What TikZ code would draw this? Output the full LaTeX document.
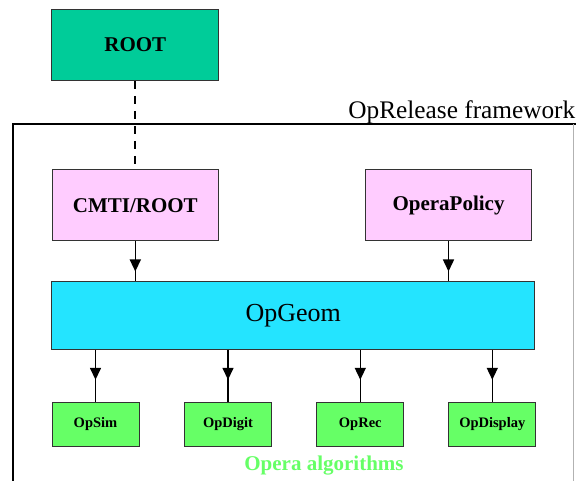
\documentclass[tikz,border=0pt]{standalone}
\usepackage{fontspec}
\setmainfont{Liberation Serif}
\usetikzlibrary{arrows.meta,decorations.markings}
\definecolor{rootgreen}{HTML}{00CC99}
\definecolor{cmtipink}{HTML}{FFCCFF}
\definecolor{geomcyan}{HTML}{24E4FF}
\definecolor{algogreen}{HTML}{66FF66}
\definecolor{boxline}{HTML}{333333}
\tikzset{
  bigbox/.style={draw=boxline, line width=1pt, minimum width=166pt, minimum height=70pt,
    inner sep=0pt, font=\fontsize{21}{25}\selectfont\bfseries},
  algobox/.style={draw=boxline, line width=1pt, fill=algogreen, minimum width=87pt,
    minimum height=44pt, inner sep=0pt, font=\fontsize{14.5}{17}\selectfont\bfseries},
  flowline/.style={line width=1.5pt, postaction={decorate},
    decoration={markings, mark=at position 30pt with {\arrow{Triangle[length=12pt,width=11pt]}}}},
  dashline/.style={line width=1.8pt, dash pattern=on 8pt off 7pt},
}
\begin{document}
\begin{tikzpicture}[x=1pt,y=-1pt]
\useasboundingbox (0,0) rectangle (576,481);
% framework frame
\draw[line width=2pt] (12.5,481) -- (12.5,124) -- (576,124);
\draw[gray!60, line width=0.6pt] (573.5,124) -- (573.5,481);
\node[anchor=base east, inner sep=0pt, font=\fontsize{25.3}{29}\selectfont] (fwlabel) at (575.5,118.5) {OpRelease framework};
% boxes
\node[bigbox, fill=rootgreen, minimum width=167pt, minimum height=71pt] (root) at (135.3,45) {ROOT};
\node[bigbox, fill=cmtipink, minimum height=71pt] (cmti) at (135.3,205.5) {CMTI/ROOT};
\node[bigbox, fill=cmtipink, minimum height=71pt] (policy) at (448.5,205.5) {OperaPolicy};
\node[draw=boxline, line width=1pt, fill=geomcyan, minimum width=483pt, minimum height=68pt,
  inner sep=0pt, font=\fontsize{26}{30}\selectfont] (geom) at (293.3,315.3) {OpGeom};
\node[algobox] (sim) at (95.5,424.2) {OpSim};
\node[algobox] (digit) at (228,424.2) {OpDigit};
\node[algobox] (rec) at (360.3,424.2) {OpRec};
\node[algobox] (disp) at (492.3,424.2) {OpDisplay};
\node[anchor=base, inner sep=0pt, text=algogreen, font=\fontsize{21}{25}\selectfont\bfseries] (algolabel) at (324,470) {Opera algorithms};
% connectors
\draw[dashline] (root.south) -- (cmti.north);
\draw[flowline] (cmti.south) -- (cmti.south |- geom.north);
\draw[flowline] (policy.south) -- (policy.south |- geom.north);
\draw[flowline] (geom.south -| sim.north) -- (sim.north);
\draw[flowline] (geom.south -| digit.north) -- (digit.north);
\draw[flowline] (geom.south -| rec.north) -- (rec.north);
\draw[flowline] (geom.south -| disp.north) -- (disp.north);
\end{tikzpicture}
\end{document}
